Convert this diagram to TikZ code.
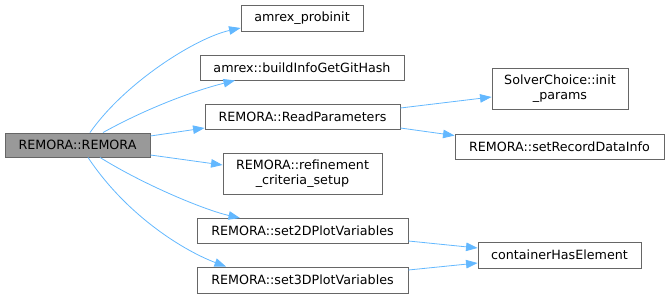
\documentclass[tikz,border=0pt]{standalone}
\usepackage{fontspec}
\setmainfont{DejaVu Sans}
\usetikzlibrary{arrows.meta, positioning}
\definecolor{edgeblue}{HTML}{63B8FF}
\definecolor{boxgrey}{HTML}{666666}
\definecolor{rootgrey}{HTML}{999999}
\tikzset{
  fnbox/.style={draw=boxgrey, fill=white, align=center, inner sep=0pt,
    font=\fontsize{12.7}{15}\selectfont, line width=0.9pt},
  rootbox/.style={fill=rootgrey},
  callarrow/.style={-{Triangle[length=11.5pt, width=8.5pt]}, line width=0.8pt, edgeblue},
}

\begin{document}
\begin{tikzpicture}[x=1pt, y=1pt]
  \useasboundingbox (0,0) rectangle (669,-299);
  \node[fnbox, rootbox, minimum width=145pt, minimum height=24pt] (remora) at (77.5,-145) {REMORA::REMORA};
  \node[fnbox, minimum width=122pt, minimum height=26pt] (probinit) at (302,-18) {amrex\_probinit};
  \node[fnbox, minimum width=204pt, minimum height=25pt] (githash) at (302,-67.5) {amrex::buildInfoGetGitHash};
  \node[fnbox, minimum width=195pt, minimum height=25pt] (readparams) at (302.5,-116.5) {REMORA::ReadParameters};
  \node[fnbox, minimum width=159pt, minimum height=41pt] (refine) at (302.5,-173.5) {REMORA::refinement\\\_criteria\_setup};
  \node[fnbox, minimum width=211pt, minimum height=25pt] (plot2d) at (302.5,-231) {REMORA::set2DPlotVariables};
  \node[fnbox, minimum width=211pt, minimum height=26pt] (plot3d) at (302.5,-280) {REMORA::set3DPlotVariables};
  \node[fnbox, minimum width=136pt, minimum height=41pt] (initparams) at (560,-88.5) {SolverChoice::init\\\_params};
  \node[fnbox, minimum width=209pt, minimum height=25pt] (recordinfo) at (559.5,-146.5) {REMORA::setRecordDataInfo};
  \node[fnbox, minimum width=163pt, minimum height=26pt] (container) at (559.5,-255) {containerHasElement};
  \draw[callarrow] ([xshift=12.5pt]remora.north) .. controls +(35,50) and +(-45,-10) .. ([yshift=-10pt]probinit.west);
  \draw[callarrow] ([xshift=25.5pt]remora.north) .. controls +(45,25) and +(-40,-10) .. ([xshift=-67pt]githash.south);
  \draw[callarrow] ([yshift=9pt]remora.east) -- ([yshift=-11.5pt]readparams.west);
  \draw[callarrow] ([yshift=-10pt]remora.east) -- ([yshift=8.5pt]refine.west);
  \draw[callarrow] ([xshift=22.5pt]remora.south) .. controls +(45,-28) and +(-35,8) .. ([xshift=-62.5pt]plot2d.north);
  \draw[callarrow] ([xshift=10.5pt]remora.south) .. controls +(40,-60) and +(-40,15) .. ([xshift=-76.5pt]plot3d.north);
  \draw[callarrow] ([yshift=8.5pt]readparams.east) -- ([yshift=-8.5pt]initparams.west);
  \draw[callarrow] ([yshift=-11.5pt]readparams.east) -- ([yshift=-2pt]recordinfo.north west);
  \draw[callarrow] ([yshift=-10pt]plot2d.east) -- ([yshift=7pt]container.west);
  \draw[callarrow] ([yshift=10pt]plot3d.east) -- ([yshift=-8pt]container.west);
\end{tikzpicture}
\end{document}
